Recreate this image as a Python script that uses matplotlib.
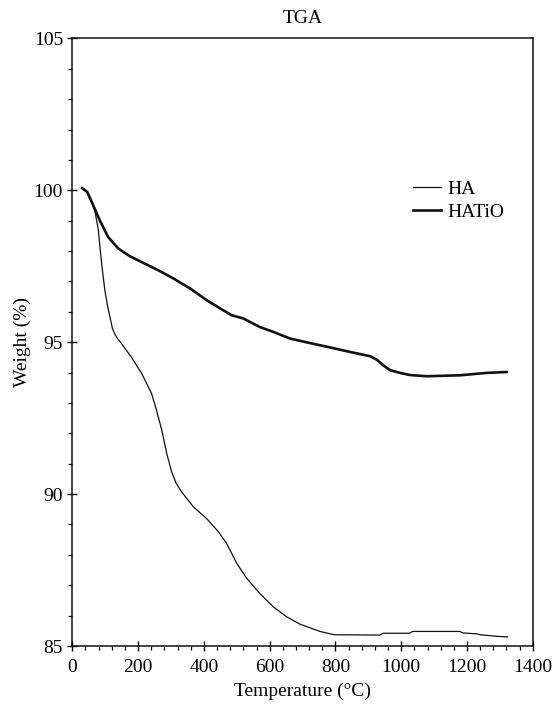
import matplotlib
matplotlib.use('Agg')
import matplotlib.pyplot as plt
from matplotlib.ticker import MultipleLocator

# values
ha_temp = [30, 45, 59, 69, 79, 89, 99, 107, 115, 122, 130, 140, 150, 180, 211,
           241, 256, 272, 287, 302, 316, 332, 368, 408, 444, 469, 500, 530, 570,
           611, 652, 692, 753, 797, 935, 945, 1025, 1035, 1178, 1188, 1230,
           1240, 1270, 1290, 1323]
ha_weight = [100.07, 99.95, 99.6, 99.3, 98.7, 97.6, 96.7, 96.2, 95.8, 95.45,
             95.25, 95.08, 94.95, 94.5, 93.97, 93.31, 92.76, 92.11, 91.34, 90.73,
             90.35, 90.08, 89.58, 89.2, 88.76, 88.38, 87.72, 87.23, 86.73, 86.29,
             85.96, 85.72, 85.48, 85.37, 85.36, 85.42, 85.42, 85.48, 85.48,
             85.43, 85.4, 85.37, 85.34, 85.32, 85.3]

hatio_temp = [30, 45, 59, 84, 109, 140, 175, 216, 261, 307, 358, 409, 459, 484,
              520, 570, 611, 662, 723, 783, 844, 905, 925, 945, 966, 996, 1026,
              1077, 1178, 1260, 1320]
hatio_weight = [100.07, 99.95, 99.62, 99.0, 98.46, 98.08, 97.83, 97.61, 97.37,
                97.1, 96.77, 96.38, 96.05, 95.89, 95.78, 95.5, 95.34, 95.12,
                94.97, 94.83, 94.68, 94.54, 94.43, 94.24, 94.08, 93.99, 93.92,
                93.88, 93.91, 93.99, 94.02]

plt.rcParams['font.family'] = ['Liberation Serif', 'DejaVu Serif']
plt.rcParams['font.size'] = 14

fig = plt.figure(figsize=(5.55, 7.11), dpi=100)
ax = fig.add_axes([0.1303, 0.0914, 0.8297, 0.8546])

ax.plot(ha_temp, ha_weight, color='#111111', lw=0.9, label='HA')
ax.plot(hatio_temp, hatio_weight, color='#111111', lw=1.9, label='HATiO')

ax.set_xlim(0, 1400)
ax.set_ylim(85, 105)
ax.xaxis.set_major_locator(MultipleLocator(200))
ax.xaxis.set_minor_locator(MultipleLocator(40))
ax.yaxis.set_major_locator(MultipleLocator(5))
ax.yaxis.set_minor_locator(MultipleLocator(1))
ax.tick_params(which='major', direction='inout', length=7, width=1.0, pad=3.2)
ax.tick_params(axis='x', which='major', pad=6)
ax.tick_params(which='minor', direction='out', length=3, width=0.9)
for s in ax.spines.values():
    s.set_linewidth(1.1)
    s.set_color('#111111')

ax.set_title('TGA', fontsize=14, pad=11)
ax.set_xlabel('Temperature (°C)', fontsize=14, labelpad=5)
ax.set_ylabel('Weight (%)', fontsize=14, labelpad=2)

ax.legend(loc='center left', bbox_to_anchor=(0.739, 0.7335), frameon=False,
          borderpad=0, borderaxespad=0, handlelength=1.45, handletextpad=0.36,
          labelspacing=0.27, fontsize=14)

fig.savefig('out.png', dpi=100)
